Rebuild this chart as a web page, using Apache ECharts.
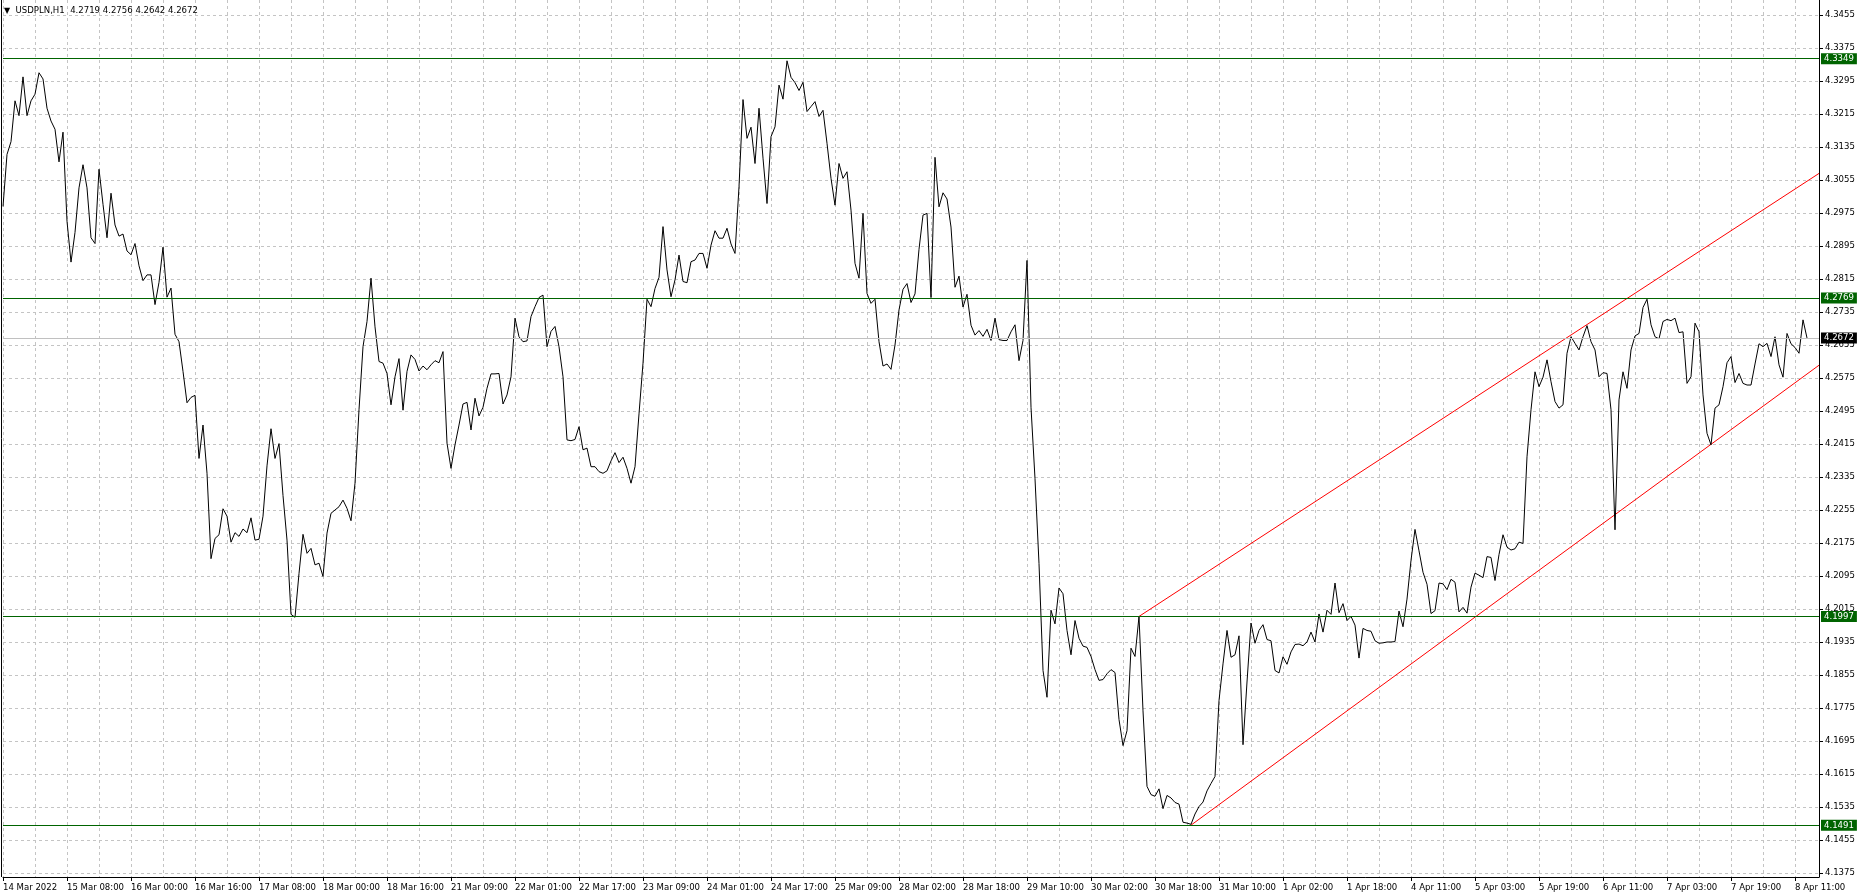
<!DOCTYPE html>
<html><head><meta charset="utf-8">
<script src="https://cdn.jsdelivr.net/npm/echarts@6/dist/echarts.min.js"></script>
<style>html,body{margin:0;padding:0;background:#fff}#c{width:1860px;height:896px}</style>
</head><body><div id="c"></div>
<script>
const symbolName = 'USDPLN,H1';
const ohlc = ['4.2719', '4.2756', '4.2642', '4.2672'];
const xLabels = ['14 Mar 2022','15 Mar 08:00','16 Mar 00:00','16 Mar 16:00','17 Mar 08:00','18 Mar 00:00','18 Mar 16:00','21 Mar 09:00','22 Mar 01:00','22 Mar 17:00','23 Mar 09:00','24 Mar 01:00','24 Mar 17:00','25 Mar 09:00','28 Mar 02:00','28 Mar 18:00','29 Mar 10:00','30 Mar 02:00','30 Mar 18:00','31 Mar 10:00','1 Apr 02:00','1 Apr 18:00','4 Apr 11:00','5 Apr 03:00','5 Apr 19:00','6 Apr 11:00','7 Apr 03:00','7 Apr 19:00','8 Apr 11:00'];
const yTicks = [4.1375,4.1455,4.1535,4.1615,4.1695,4.1775,4.1855,4.1935,4.2015,4.2095,4.2175,4.2255,4.2335,4.2415,4.2495,4.2575,4.2655,4.2735,4.2815,4.2895,4.2975,4.3055,4.3135,4.3215,4.3295,4.3375,4.3455];

const closeA = [4.2991,4.3117,4.3148,4.3247,4.3211,4.3305,4.3211,4.3247,4.3263,4.3315,4.3300,4.3229,4.3198,4.3178,4.3099,4.3171,4.2955,4.2856,4.2928,4.3036,4.3092,4.3036,4.2915,4.2901,4.3081,4.2996,4.2915,4.3023,4.2946,4.2919,4.2924,4.2883,4.2874,4.2901,4.2847,4.2811,4.2825,4.2825,4.2753,4.2807,4.2892,4.2771,4.2793,4.2681,4.2663,4.2591,4.2515,4.2528,4.2533,4.2380,4.2461,4.2344,4.2137,4.2186,4.2195,4.2258,4.2240,4.2177,4.2200,4.2191,4.2209,4.2200,4.2236,4.2182,4.2184,4.2240,4.2362,4.2452,4.2380,4.2416,4.2290,4.2182,4.2002,4.1995,4.2101];
const closeB = [4.2196,4.2150,4.2162,4.2122,4.2126,4.2094,4.2199,4.2247,4.2255,4.2263,4.2279,4.2259,4.2229,4.2320,4.2498,4.2651,4.2712,4.2817,4.2699,4.2615,4.2611,4.2586,4.2510,4.2578,4.2622,4.2497,4.2591,4.2631,4.2620,4.2592,4.2604,4.2595,4.2607,4.2617,4.2612,4.2639,4.2417,4.2356,4.2413,4.2461,4.2512,4.2516,4.2449,4.2526,4.2483,4.2504,4.2550,4.2585,4.2585,4.2586,4.2512,4.2534,4.2578,4.2720,4.2675,4.2663,4.2665,4.2724,4.2748,4.2770,4.2776,4.2651,4.2688,4.2700,4.2651,4.2578,4.2425,4.2423,4.2426,4.2457,4.2401,4.2405,4.2360,4.2360,4.2348];
const closeC = [4.2344,4.2350,4.2374,4.2394,4.2370,4.2383,4.2356,4.2320,4.2360,4.2488,4.2611,4.2766,4.2748,4.2792,4.2819,4.2942,4.2837,4.2772,4.2813,4.2873,4.2809,4.2806,4.2857,4.2861,4.2877,4.2877,4.2841,4.2897,4.2932,4.2914,4.2914,4.2938,4.2900,4.2877,4.3039,4.3250,4.3156,4.3183,4.3095,4.3229,4.3108,4.2998,4.3160,4.3184,4.3285,4.3251,4.3344,4.3304,4.3291,4.3272,4.3292,4.3221,4.3233,4.3245,4.3209,4.3224,4.3144,4.3059,4.2994,4.3095,4.3059,4.3075,4.2982,4.2853,4.2817,4.2974,4.2780,4.2756,4.2766,4.2663,4.2604,4.2609,4.2596,4.2655,4.2740];
const closeD = [4.2790,4.2804,4.2758,4.2779,4.2887,4.2970,4.2974,4.2770,4.3110,4.2990,4.3024,4.3009,4.2941,4.2795,4.2822,4.2747,4.2778,4.2703,4.2679,4.2690,4.2676,4.2693,4.2666,4.2720,4.2668,4.2666,4.2666,4.2687,4.2704,4.2617,4.2666,4.2860,4.2504,4.2331,4.2125,4.1866,4.1801,4.2012,4.1979,4.2066,4.2052,4.1963,4.1904,4.1987,4.1944,4.1925,4.1922,4.1900,4.1868,4.1842,4.1844,4.1858,4.1868,4.1861,4.1747,4.1684,4.1720,4.1920,4.1900,4.1997,4.1768,4.1585,4.1565,4.1561,4.1579,4.1531,4.1563,4.1557,4.1546,4.1542,4.1498,4.1496,4.1493,4.1518,4.1536];
const closeE = [4.1547,4.1574,4.1592,4.1609,4.1793,4.1882,4.1963,4.1898,4.1904,4.1950,4.1686,4.1838,4.1981,4.1932,4.1963,4.1977,4.1941,4.1938,4.1866,4.1860,4.1899,4.1881,4.1911,4.1929,4.1930,4.1926,4.1935,4.1959,4.1935,4.2003,4.1959,4.2012,4.2002,4.2078,4.2006,4.2028,4.1987,4.1997,4.1976,4.1896,4.1968,4.1963,4.1961,4.1938,4.1932,4.1933,4.1935,4.1935,4.1936,4.2010,4.1972,4.2039,4.2133,4.2208,4.2156,4.2104,4.2075,4.2004,4.2011,4.2078,4.2076,4.2062,4.2087,4.2080,4.2008,4.2019,4.2005,4.2068,4.2102,4.2097,4.2091,4.2142,4.2140,4.2084,4.2147];
const closeF = [4.2195,4.2165,4.2158,4.2161,4.2177,4.2174,4.2384,4.2498,4.2590,4.2554,4.2577,4.2619,4.2566,4.2518,4.2502,4.2510,4.2635,4.2675,4.2659,4.2643,4.2675,4.2702,4.2663,4.2643,4.2578,4.2588,4.2586,4.2498,4.2207,4.2522,4.2590,4.2550,4.2643,4.2677,4.2683,4.2746,4.2766,4.2704,4.2675,4.2670,4.2712,4.2717,4.2714,4.2720,4.2685,4.2687,4.2562,4.2578,4.2708,4.2687,4.2534,4.2441,4.2413,4.2502,4.2510,4.2554,4.2612,4.2627,4.2564,4.2586,4.2562,4.2558,4.2558,4.2609,4.2658,4.2651,4.2659,4.2627,4.2675,4.2607,4.2577,4.2683,4.2658,4.2649,4.2635,4.2716,4.2672];

const levels = [4.3349, 4.2769, 4.1997, 4.1491];
const lastPrice = 4.2672;
const channelUpper = [[284, 4.1997], [454, 4.3071]];
const channelLower = [[297, 4.1491], [454, 4.2606]];

const closes = [].concat(closeA, closeB, closeC, closeD, closeE, closeF);
const font = "'DejaVu Sans Condensed','Liberation Sans',Arial,sans-serif";
const fs = 9.5;
const gridColor = '#c4c4c4';
const dash = [3, 3];
const xTickIdx = xLabels.map((_, k) => k * 16);

const chart = echarts.init(document.getElementById('c'), null, {renderer: 'canvas'});

function priceLabel(v, bg) {
  return {show: true, position: 'end', distance: 2, formatter: v.toFixed(4), backgroundColor: bg, color: '#fff',
    padding: [1, 3, 0, 3], fontSize: fs, lineHeight: 10, fontFamily: font};
}
const markData = [{
  yAxis: lastPrice,
  lineStyle: {color: '#c0c0c0', type: 'solid', width: 1},
  label: priceLabel(lastPrice, '#000')
}].concat(levels.map(v => ({
  yAxis: v,
  lineStyle: {color: '#006400', type: 'solid', width: 1},
  label: priceLabel(v, '#006400')
})));

const option = {
  animation: false,
  backgroundColor: '#fff',
  textStyle: {fontFamily: font},
  title: {
    text: '{a|▼}  ' + symbolName + '  ' + ohlc.join(' '),
    left: 4, top: 6, padding: 0,
    textStyle: {fontSize: fs, fontWeight: 'normal', color: '#000', fontFamily: font,
      rich: {a: {fontSize: 8, color: '#000', fontFamily: 'DejaVu Sans'}}}
  },
  grid: {left: 3, right: 41, top: 0, bottom: 19, containLabel: false, outerBoundsMode: 'none'},
  graphic: [{type: 'line', shape: {x1: 1.5, y1: 0, x2: 1.5, y2: 877}, style: {stroke: '#000', lineWidth: 1}, z: 100}],
  xAxis: [
    {
      type: 'value', min: 0, max: 454, position: 'bottom',
      axisLine: {show: true, onZero: false, lineStyle: {color: '#000', width: 1}},
      axisTick: {show: true, length: 4, customValues: xTickIdx, lineStyle: {color: '#000'}},
      axisLabel: {show: true, customValues: xTickIdx, formatter: v => xLabels[Math.round(v / 16)] || '',
        align: 'left', margin: 6, fontSize: fs, color: '#000', fontFamily: font, hideOverlap: false},
      splitLine: {show: false}
    },
    {
      type: 'value', min: 0, max: 454, interval: 8, position: 'bottom', gridIndex: 0,
      axisLine: {show: false}, axisTick: {show: false}, axisLabel: {show: false},
      splitLine: {show: true, lineStyle: {color: gridColor, type: dash, width: 1}}
    }
  ],
  yAxis: {
    type: 'value', position: 'right', min: 4.13653, max: 4.34914, scale: true,
    axisLine: {show: true, onZero: false, lineStyle: {color: '#000', width: 1}},
    axisTick: {show: true, length: 4, customValues: yTicks, lineStyle: {color: '#000'}},
    axisLabel: {show: true, customValues: yTicks, formatter: v => v.toFixed(4), margin: 6,
      fontSize: fs, color: '#000', fontFamily: font, hideOverlap: false},
    splitLine: {show: true, lineStyle: {color: gridColor, type: dash, width: 1}}
  },
  series: [
    {
      type: 'line', name: 'upper', xAxisIndex: 0, data: channelUpper, showSymbol: false, symbol: 'none',
      lineStyle: {color: '#ff0000', width: 1}, silent: true, z: 3
    },
    {
      type: 'line', name: 'lower', xAxisIndex: 0, data: channelLower, showSymbol: false, symbol: 'none',
      lineStyle: {color: '#ff0000', width: 1}, silent: true, z: 3
    },
    {
      type: 'line', name: symbolName, xAxisIndex: 0, data: closes.map((v, i) => [i, v]),
      showSymbol: false, symbol: 'none', lineStyle: {color: '#000', width: 1}, z: 4,
      markLine: {symbol: 'none', silent: true, animation: false, precision: 4, data: markData}
    }
  ]
};
chart.setOption(option);
</script></body></html>
